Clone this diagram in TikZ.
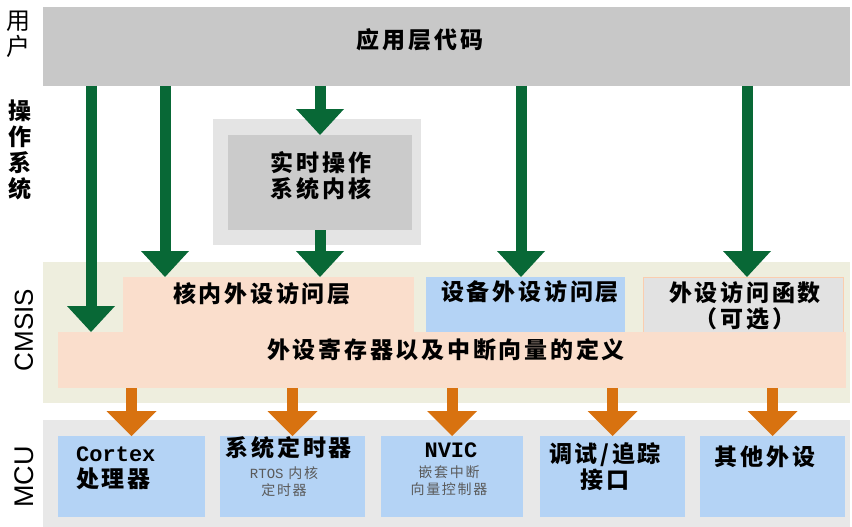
\documentclass[tikz,border=0pt]{standalone}
\usepackage{fontspec}
\newfontfamily\cjk{Noto Sans CJK SC}[LetterSpace=12]
\newfontfamily\monofont{Liberation Mono}
\newfontfamily\lsans{Liberation Sans}
\usepackage{tikz}
\usetikzlibrary{positioning,arrows.meta}
\usepackage{xcolor}
\definecolor{appgray}{RGB}{200,200,200}
\definecolor{rtosout}{RGB}{228,228,228}
\definecolor{rtosin}{RGB}{203,203,203}
\definecolor{cmsisbg}{RGB}{238,238,222}
\definecolor{peach}{RGB}{250,222,204}
\definecolor{peachline}{RGB}{250,205,175}
\definecolor{lblue}{RGB}{180,211,245}
\definecolor{funcgray}{RGB}{226,226,226}
\definecolor{mcubg}{RGB}{232,232,232}
\definecolor{ggreen}{RGB}{8,104,54}
\definecolor{orng}{RGB}{216,114,16}
\definecolor{subgray}{RGB}{90,90,90}

\begin{document}
\begin{tikzpicture}[x=1pt,y=-1pt,
  blk/.style={inner sep=0pt,outer sep=0pt},
  txt/.style={font=\cjk\bfseries\fontsize{23}{26}\selectfont,align=center,inner sep=0pt},
  sub/.style={font=\cjk\fontsize{14}{17}\selectfont,text=subgray,align=center,inner sep=0pt},
  garr/.style={draw=ggreen,line width=11pt,-{Triangle[length=26pt,width=48pt,line width=0pt]}},
  oarr/.style={draw=orng,line width=11pt,-{Triangle[length=25pt,width=50pt,line width=0pt]}},
]
\useasboundingbox (0,0) rectangle (852,527);
% layer backgrounds
\node[blk,fill=appgray,minimum width=807,minimum height=79] (app) at (446.5,46.5) {};
\node[blk,fill=cmsisbg,minimum width=807,minimum height=141] (cmsis) at (446.5,332.5) {};
\node[blk,fill=mcubg,minimum width=807,minimum height=107] (mcu) at (446.5,473.5) {};
\node[txt] (apptxt) at (420,40) {应用层代码};
% layer names
\node[txt,font=\cjk\fontsize{24}{26}\selectfont] (user) at (18,34) {用\\户};
\node[txt] (os) at (20,150) {操\\作\\系\\统};
\node[font=\lsans\fontsize{26}{26}\selectfont,rotate=90,inner sep=0pt] (cmsislbl) at (24,330) {CMSIS};
\node[font=\lsans\fontsize{27}{27}\selectfont,rotate=90,inner sep=0pt] (mculbl) at (24,477) {MCU};
% RTOS kernel
\node[blk,fill=rtosout,minimum width=208,minimum height=126] (rtos) at (317,182) {};
\node[blk,fill=rtosin,minimum width=184,minimum height=95] (kernel) at (320,182.5) {};
\node[txt] (kerneltxt) at (321,175.5) {实时操作\\系统内核};
% CMSIS
\node[blk,fill=peach,minimum width=291,minimum height=55] (core) at (268.5,304.5) {};
\node[blk,fill=lblue,minimum width=199,minimum height=55] (dev) at (525.5,304.5) {};
\node[blk,fill=funcgray,draw=peachline,minimum width=200,minimum height=55] (func) at (743,304.5) {};
\node[blk,fill=peach,minimum width=788,minimum height=56] (regs) at (452,360) {};
\node[txt] (coretxt) at (262,294) {核内外设访问层};
\node[txt] (devtxt) at (530,292) {设备外设访问层};
\node[txt] (functxt) at (745,306) {外设访问函数\\（可选）};
\node[txt] (regstxt) at (446,350) {外设寄存器以及中断向量的定义};
% MCU
\node[blk,fill=lblue,minimum width=147,minimum height=81] (cortex) at (131.5,476.5) {};
\node[blk,fill=lblue,minimum width=145,minimum height=81] (systick) at (292.5,476.5) {};
\node[blk,fill=lblue,minimum width=142,minimum height=81] (nvic) at (452,476.5) {};
\node[blk,fill=lblue,minimum width=145,minimum height=81] (debug) at (612.5,476.5) {};
\node[blk,fill=lblue,minimum width=145,minimum height=81] (other) at (772.5,476.5) {};
\node[txt,align=left,anchor=west] (cortextxt) at (76,468)
  {{\monofont\bfseries\fontsize{22}{22}\selectfont Cortex}\\处理器};
\node[txt] (systicktxt) at (289,448) {系统定时器};
\node[sub] (systicksub) at (284,482) {{\monofont RTOS} 内核\\定时器};
\node[font=\monofont\bfseries\fontsize{22}{22}\selectfont,inner sep=0pt] (nvictxt) at (451,450) {NVIC};
\node[sub] (nvicsub) at (449,481) {嵌套中断\\向量控制器};
\node[txt] (debugtxt) at (605,466.5) {调试/追踪\\接口};
\node[txt] (othertxt) at (765,457) {其他外设};
% call paths
\coordinate (g1) at (91,0);
\coordinate (g2) at (165,0);
\coordinate (g4) at (521,0);
\coordinate (g5) at (747,0);
\draw[garr] (app.south -| g1) -- (regs.north -| g1);
\draw[garr] (app.south -| g2) -- (core.north -| g2);
\draw[garr] (app.south -| kernel.north) -- (kernel.north);
\draw[garr] (kernel.south) -- (core.north -| kernel.south);
\draw[garr] (app.south -| g4) -- (dev.north -| g4);
\draw[garr] (app.south -| g5) -- (func.north -| g5);
\foreach \t in {cortex,systick,nvic,debug,other}
  \draw[oarr] (regs.south -| \t.north) -- (\t.north);
\end{tikzpicture}
\end{document}
